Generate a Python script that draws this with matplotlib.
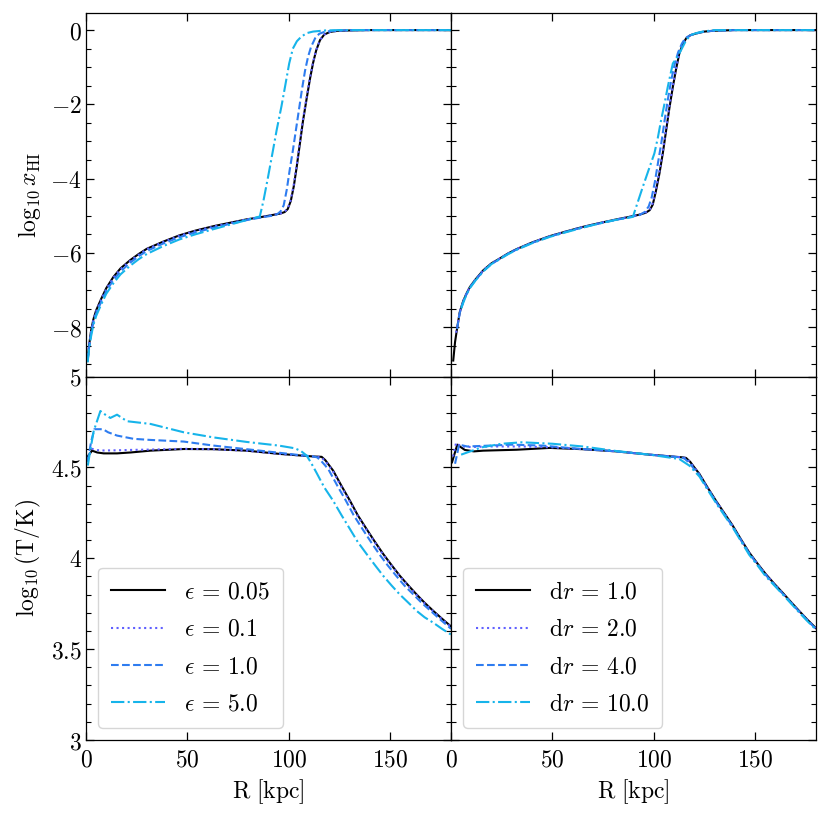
import matplotlib
matplotlib.use("Agg")
import matplotlib.pyplot as plt
from matplotlib.ticker import MultipleLocator, FuncFormatter

plt.rcParams["mathtext.fontset"] = "cm"
plt.rcParams["font.family"] = ["DejaVu Serif"]

# ---------------- data ----------------
eps_labels = [r"$\epsilon\,=\,0.05$", r"$\epsilon\,=\,0.1$", r"$\epsilon\,=\,1.0$", r"$\epsilon\,=\,5.0$"]
dr_labels = [r"$\mathrm{d}r\,=\,1.0$", r"$\mathrm{d}r\,=\,2.0$", r"$\mathrm{d}r\,=\,4.0$", r"$\mathrm{d}r\,=\,10.0$"]

# top-left: log10 x_HI vs R, epsilon runs
R_xhi_e005 = [0.8, 1.5, 2.5, 3.6, 5, 7.4, 10, 13.5, 17, 21.7, 26, 30, 38, 46, 54, 63, 71, 79, 87, 93, 96, 98, 99.5,
              101, 102.5, 104, 105.5, 107, 108.8, 110.5, 112, 113.5, 115.4, 117.5, 120.3, 124, 130, 140, 180]
xhi_e005 = [-8.9, -8.5, -8.1, -7.8, -7.55, -7.25, -6.95, -6.65, -6.42, -6.2, -6.03, -5.89, -5.7, -5.53, -5.4, -5.28,
            -5.19, -5.1, -5.03, -4.97, -4.94, -4.9, -4.82, -4.6, -4.2, -3.65, -3.05, -2.45, -1.85, -1.3, -0.88, -0.55,
            -0.27, -0.12, -0.05, -0.02, -0.01, 0, 0]
R_xhi_e01 = [0.8, 1.5, 2.5, 3.6, 5, 7.4, 10, 13.5, 17, 21.7, 26, 30, 38, 46, 54, 63, 71, 79, 87, 93, 96, 98, 99.5,
             101, 102.5, 104, 105.5, 107, 108.8, 110.5, 112, 113.5, 115.4, 117.5, 120.3, 124, 130, 140, 180]
xhi_e01 = [-8.9, -8.5, -8.12, -7.82, -7.57, -7.27, -6.97, -6.67, -6.44, -6.22, -6.05, -5.9, -5.71, -5.54, -5.41, -5.29,
           -5.2, -5.1, -5.03, -4.97, -4.94, -4.89, -4.8, -4.57, -4.15, -3.6, -3.0, -2.4, -1.8, -1.27, -0.86, -0.54,
           -0.27, -0.12, -0.05, -0.02, -0.01, 0, 0]
R_xhi_e1 = [0.8, 1.5, 2.5, 3.6, 5, 7.4, 10, 13.5, 17, 21.7, 26, 30, 38, 46, 54, 63, 71, 79, 87, 93, 94.5, 96, 97.5, 99,
            100.5, 102, 103.5, 105, 106.5, 108, 109.5, 111, 113, 115, 118, 122, 130, 180]
xhi_e1 = [-8.92, -8.55, -8.17, -7.88, -7.63, -7.33, -7.03, -6.73, -6.5, -6.27, -6.09, -5.95, -5.75, -5.58, -5.45,
          -5.32, -5.22, -5.12, -5.04, -4.99, -4.95, -4.88, -4.72, -4.3, -3.75, -3.25, -2.7, -2.15, -1.6, -1.1, -0.72,
          -0.45, -0.22, -0.1, -0.04, -0.02, 0, 0]
R_xhi_e5 = [0.8, 1.5, 2.5, 3.6, 5, 7.4, 10, 13.5, 17, 21.7, 26, 30, 38, 46, 54, 63, 71, 79, 85.7, 87.5, 89.8, 92, 94,
            96.4, 98.4, 100.2, 102, 104, 106.3, 109, 112, 118, 125, 180]
xhi_e5 = [-8.95, -8.6, -8.25, -7.95, -7.7, -7.4, -7.1, -6.82, -6.58, -6.35, -6.17, -6.03, -5.82, -5.64, -5.5, -5.36,
          -5.24, -5.12, -5.02, -4.6, -3.95, -3.3, -2.7, -2.05, -1.45, -0.9, -0.5, -0.3, -0.17, -0.08, -0.04, -0.01,
          0, 0]

# top-right: log10 x_HI vs R, dr runs
R_xhi_dr1 = [1.1, 2, 3.1, 4.3, 6, 7.6, 9.3, 12, 15.9, 20, 24.1, 28, 32.3, 40, 48.7, 57, 65.1, 73, 81.5, 88, 93, 96,
             98, 99.5, 101, 102.8, 104.5, 106.1, 107.7, 109.4, 111, 112.6, 114.3, 116, 118, 120.9, 125, 129, 140, 180]
xhi_dr1 = [-8.9, -8.4, -8.0, -7.6, -7.3, -7.1, -6.92, -6.72, -6.47, -6.28, -6.15, -6.02, -5.9, -5.72, -5.55, -5.42,
           -5.3, -5.2, -5.1, -5.03, -4.97, -4.92, -4.85, -4.7, -4.35, -3.86, -3.3, -2.7, -2.1, -1.53, -1.05, -0.63,
           -0.38, -0.22, -0.14, -0.09, -0.04, -0.02, 0, 0]
R_xhi_dr2 = [2.5, 3.1, 4.3, 6, 7.6, 9.3, 12, 15.9, 20, 24.1, 28, 32.3, 40, 48.7, 57, 65.1, 73, 81.5, 88, 93, 96,
             98, 99.5, 101, 102.8, 104.5, 106.1, 107.7, 109.4, 111, 112.6, 114.3, 116, 118, 120.9, 125, 129, 140, 180]
xhi_dr2 = [-8.15, -7.98, -7.6, -7.3, -7.1, -6.92, -6.72, -6.47, -6.28, -6.15, -6.02, -5.9, -5.72, -5.55, -5.42,
           -5.3, -5.2, -5.1, -5.03, -4.97, -4.91, -4.83, -4.66, -4.3, -3.8, -3.24, -2.65, -2.05, -1.5, -1.03, -0.62,
           -0.38, -0.22, -0.14, -0.09, -0.04, -0.02, 0, 0]
R_xhi_dr4 = [3, 4.3, 6, 7.6, 9.3, 12, 15.9, 20, 24.1, 28, 32.3, 40, 48.7, 57, 65.1, 73, 81.5, 88, 93, 95.5, 97.5,
             99, 100.5, 102, 103.7, 105.3, 107, 108.6, 110.3, 112, 113.8, 115.5, 118, 120.9, 125, 129, 140, 180]
xhi_dr4 = [-8.05, -7.62, -7.32, -7.12, -6.94, -6.74, -6.49, -6.3, -6.16, -6.03, -5.91, -5.73, -5.56, -5.43, -5.31,
           -5.21, -5.11, -5.04, -4.98, -4.9, -4.75, -4.5, -4.1, -3.6, -3.05, -2.45, -1.85, -1.35, -0.92, -0.6, -0.37,
           -0.22, -0.14, -0.09, -0.04, -0.02, 0, 0]
R_xhi_dr10 = [5, 6, 7.6, 9.3, 12, 15.9, 20, 24.1, 28, 32.3, 40, 48.7, 57, 65.1, 73, 81.5, 86, 89.7, 92, 94.6, 97.5,
              100.3, 102, 103.6, 105.3, 106.9, 108.2, 109.4, 111, 112.6, 114.3, 116, 118.4, 121, 124.1, 130, 180]
xhi_dr10 = [-7.5, -7.35, -7.13, -6.95, -6.75, -6.5, -6.3, -6.17, -6.04, -5.92, -5.74, -5.57, -5.44, -5.32, -5.21,
            -5.11, -5.07, -5.03, -4.65, -4.22, -3.76, -3.32, -2.9, -2.43, -1.98, -1.53, -1.2, -0.9, -0.77, -0.63,
            -0.45, -0.27, -0.13, -0.08, -0.04, 0, 0]

# bottom-left: log10 T vs R, epsilon runs
R_T_e005 = [0.5, 3, 5.5, 8.7, 15.3, 22, 31.8, 48.2, 62.8, 79.2, 95.6, 105, 112.1, 116.2, 118, 120, 121.9, 126,
            130.2, 134, 138.4, 142.5, 146.6, 150.7, 154.8, 159, 163.1, 167, 171.3, 175.5, 180]
T_e005 = [4.555, 4.592, 4.582, 4.577, 4.577, 4.582, 4.592, 4.601, 4.60, 4.592, 4.574, 4.566, 4.56, 4.558, 4.54,
          4.51, 4.482, 4.398, 4.316, 4.237, 4.16, 4.09, 4.023, 3.962, 3.903, 3.85, 3.80, 3.755, 3.71, 3.668, 3.625]
R_T_e01 = [0.5, 3, 5.5, 8.7, 15.3, 22, 31.8, 48.2, 62.8, 79.2, 95.6, 105, 112.1, 115.8, 118, 120, 121.9, 126,
           130.2, 134, 138.4, 142.5, 146.6, 150.7, 154.8, 159, 163.1, 167, 171.3, 175.5, 180]
T_e01 = [4.545, 4.602, 4.595, 4.593, 4.594, 4.596, 4.598, 4.602, 4.60, 4.592, 4.574, 4.566, 4.56, 4.557, 4.535,
         4.505, 4.476, 4.392, 4.31, 4.232, 4.155, 4.086, 4.019, 3.958, 3.9, 3.847, 3.797, 3.752, 3.707, 3.665, 3.622]
R_T_e1 = [0.8, 2.5, 4.1, 8.4, 10.9, 15.3, 23.5, 31.8, 48.2, 62.8, 79.2, 95.6, 105, 112.1, 114, 116, 118, 119.9,
          124, 128.2, 132, 136.4, 140.5, 144.6, 148.7, 153, 157, 161.5, 165.5, 170, 175, 180]
T_e1 = [4.53, 4.64, 4.71, 4.71, 4.693, 4.675, 4.657, 4.651, 4.642, 4.62, 4.60, 4.58, 4.568, 4.56, 4.555, 4.535, 4.51,
        4.482, 4.398, 4.316, 4.237, 4.16, 4.09, 4.023, 3.962, 3.903, 3.85, 3.80, 3.755, 3.71, 3.66, 3.612]
R_T_e5 = [0.9, 2.2, 3.8, 7.1, 9.5, 12, 15.3, 20.2, 31.8, 48.2, 62.8, 79.2, 95, 103, 106, 108.8, 111, 113.7, 117.5,
          121.9, 126, 130.2, 134, 138.4, 142.5, 146.6, 150.7, 154.8, 159, 163.1, 167, 171.3, 175.5, 180]
T_e5 = [4.51, 4.6, 4.70, 4.81, 4.79, 4.772, 4.79, 4.754, 4.739, 4.693, 4.665, 4.64, 4.62, 4.605, 4.59, 4.565, 4.525,
        4.47, 4.39, 4.316, 4.237, 4.16, 4.09, 4.023, 3.962, 3.903, 3.85, 3.80, 3.755, 3.71, 3.675, 3.645, 3.612, 3.58]

# bottom-right: log10 T vs R, dr runs
R_T_dr1 = [0.5, 3.1, 6.8, 11.3, 15.9, 32.3, 48.7, 65.1, 81.5, 97.9, 114.3, 115.9, 118, 120, 122.5, 126.5, 130.7,
           134.8, 138.9, 143, 147.1, 151.2, 155.3, 159.4, 163.5, 167.6, 171.7, 175.5, 180]
T_dr1 = [4.528, 4.625, 4.596, 4.588, 4.592, 4.597, 4.607, 4.60, 4.588, 4.57, 4.555, 4.552, 4.53, 4.5, 4.464, 4.39,
         4.316, 4.248, 4.18, 4.104, 4.031, 3.97, 3.912, 3.86, 3.811, 3.76, 3.71, 3.665, 3.615]
R_T_dr2 = [1.0, 2.5, 5, 10, 20, 35, 50, 65, 81.5, 97.9, 114.3, 115.9, 118, 120, 122.5, 126.5, 130.7, 134.8, 138.9,
           143, 147.1, 151.2, 155.3, 159.4, 163.5, 167.6, 171.7, 175.5, 180]
T_dr2 = [4.56, 4.635, 4.615, 4.612, 4.615, 4.615, 4.61, 4.60, 4.588, 4.57, 4.555, 4.551, 4.528, 4.498, 4.462, 4.388,
         4.314, 4.246, 4.178, 4.102, 4.029, 3.968, 3.91, 3.858, 3.809, 3.758, 3.708, 3.663, 3.613]
R_T_dr4 = [2, 4, 8, 15, 30, 45, 60, 81.5, 97.9, 113.5, 115.2, 117.5, 120, 122.5, 126.5, 130.7, 134.8, 138.9, 143,
           147.1, 151.2, 155.3, 159.4, 163.5, 167.6, 171.7, 175.5, 180]
T_dr4 = [4.52, 4.625, 4.615, 4.618, 4.625, 4.62, 4.605, 4.588, 4.57, 4.555, 4.548, 4.525, 4.49, 4.458, 4.384, 4.31,
         4.242, 4.174, 4.099, 4.026, 3.965, 3.907, 3.855, 3.806, 3.756, 3.706, 3.661, 3.611]
R_T_dr10 = [5, 10, 15, 25, 35, 50, 65, 81.5, 98, 112.6, 117.5, 122.5, 126.5, 130.7, 134.8, 139, 143, 147, 151.2, 155,
            159.4, 163.5, 167.6, 171.7, 175.5, 180]
T_dr10 = [4.57, 4.59, 4.61, 4.63, 4.638, 4.63, 4.615, 4.59, 4.57, 4.546, 4.51, 4.45, 4.378, 4.304, 4.236, 4.168,
          4.094, 4.02, 3.96, 3.903, 3.851, 3.802, 3.752, 3.702, 3.657, 3.607]

# ---------------- styles ----------------
colors = ["black", "#6060ff", "#2e7cf0", "#16b4ea"]
styles = ["-", ":", "--", "-."]
lw = 1.5
FS = 17

fig = plt.figure(figsize=(8.3, 8.16), dpi=100)
gs = fig.add_gridspec(2, 2, left=86 / 830, right=816 / 830, top=1 - 13 / 816, bottom=1 - 740 / 816,
                      wspace=0, hspace=0)
ax_tl = fig.add_subplot(gs[0, 0])
ax_tr = fig.add_subplot(gs[0, 1], sharey=ax_tl)
ax_bl = fig.add_subplot(gs[1, 0], sharex=ax_tl)
ax_br = fig.add_subplot(gs[1, 1], sharey=ax_bl)

top_left = [(R_xhi_e005, xhi_e005), (R_xhi_e01, xhi_e01), (R_xhi_e1, xhi_e1), (R_xhi_e5, xhi_e5)]
top_right = [(R_xhi_dr1, xhi_dr1), (R_xhi_dr2, xhi_dr2), (R_xhi_dr4, xhi_dr4), (R_xhi_dr10, xhi_dr10)]
bot_left = [(R_T_e005, T_e005), (R_T_e01, T_e01), (R_T_e1, T_e1), (R_T_e5, T_e5)]
bot_right = [(R_T_dr1, T_dr1), (R_T_dr2, T_dr2), (R_T_dr4, T_dr4), (R_T_dr10, T_dr10)]

for ax, series, labels in [(ax_tl, top_left, eps_labels), (ax_tr, top_right, dr_labels),
                           (ax_bl, bot_left, eps_labels), (ax_br, bot_right, dr_labels)]:
    for (r, v), c, ls, lab in zip(series, colors, styles, labels):
        ax.plot(r, v, color=c, ls=ls, lw=lw, label=lab)

fmt = FuncFormatter(lambda v, p: rf"${v:g}$")
for ax in [ax_tl, ax_tr, ax_bl, ax_br]:
    ax.set_xlim(0, 180)
    ax.xaxis.set_major_locator(MultipleLocator(50))
    ax.xaxis.set_major_formatter(fmt)
    ax.yaxis.set_major_formatter(fmt)
    ax.tick_params(which="both", direction="in", top=True, right=True, labelsize=FS)
    ax.tick_params(axis="x", which="both", pad=6)
    ax.tick_params(axis="y", which="both", pad=3)
    ax.tick_params(which="major", length=6, width=0.9)
    ax.tick_params(which="minor", length=3.5, width=0.8)
    for s in ax.spines.values():
        s.set_linewidth(0.9)

for ax in [ax_tl, ax_tr]:
    ax.set_ylim(-9.33, 0.46)
    ax.yaxis.set_major_locator(MultipleLocator(2))
    ax.yaxis.set_minor_locator(MultipleLocator(0.5))
    ax.tick_params(labelbottom=False)
for ax in [ax_bl, ax_br]:
    ax.set_ylim(3, 5)
    ax.yaxis.set_major_locator(MultipleLocator(0.5))
    ax.yaxis.set_minor_locator(MultipleLocator(0.1))
    ax.set_xlabel(r"$\mathrm{R\ [kpc]}$", fontsize=FS)
for ax in [ax_tr, ax_br]:
    ax.tick_params(labelleft=False)

ax_tl.set_ylabel(r"$\log_{10} x_{\rm HI}$", fontsize=FS)
ax_bl.set_ylabel(r"$\log_{10}(\mathrm{T/K})$", fontsize=FS)
ax_tl.yaxis.set_label_coords(-0.118, 0.5)
ax_bl.yaxis.set_label_coords(-0.118, 0.5)

for ax in [ax_bl, ax_br]:
    ax.legend(loc="lower left", fontsize=FS, handlelength=2.3, labelspacing=0.6, borderpad=0.55,
              frameon=True, fancybox=True)

fig.savefig("out.png", dpi=100)
